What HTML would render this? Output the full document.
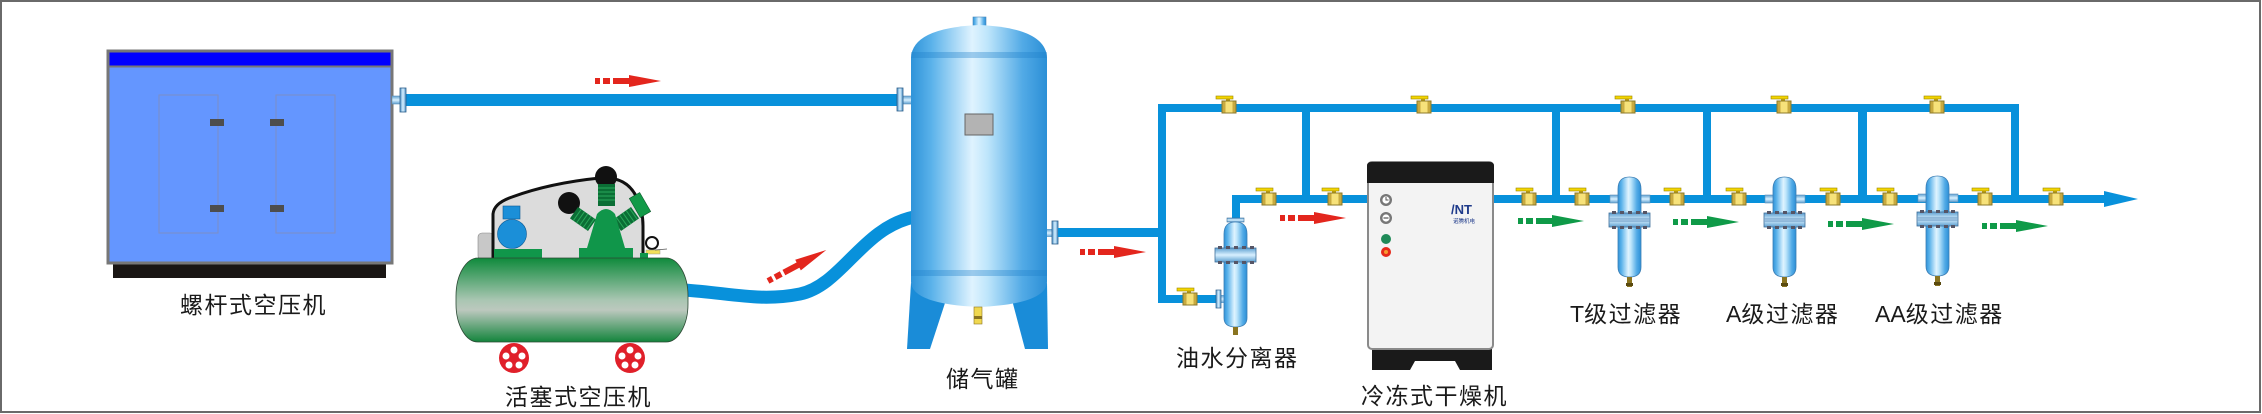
<!DOCTYPE html>
<html><head><meta charset="utf-8"><style>
html,body{margin:0;padding:0;background:#fff;}
svg{display:block;}
text{font-family:"Liberation Sans","Noto Sans CJK SC",sans-serif;fill:#1a1a1a;}
</style></head><body>
<svg width="2262" height="414" viewBox="0 0 2262 414" xmlns="http://www.w3.org/2000/svg">
<defs>
<linearGradient id="tg" x1="0" x2="1" y1="0" y2="0">
<stop offset="0" stop-color="#2f93d9"/><stop offset="0.15" stop-color="#5ab2ea"/><stop offset="0.45" stop-color="#dff3ff"/><stop offset="0.56" stop-color="#bfe6fb"/><stop offset="0.82" stop-color="#52aae6"/><stop offset="1" stop-color="#2b8fd6"/>
</linearGradient>
<linearGradient id="fl" x1="0" x2="1" y1="0" y2="0">
<stop offset="0" stop-color="#4f94c8"/><stop offset="0.5" stop-color="#d8f0ff"/><stop offset="1" stop-color="#4f94c8"/>
</linearGradient>
<linearGradient id="flv" x1="0" x2="0" y1="0" y2="1">
<stop offset="0" stop-color="#5d9fd0"/><stop offset="0.5" stop-color="#d8f0ff"/><stop offset="1" stop-color="#5d9fd0"/>
</linearGradient>
<linearGradient id="gt" x1="0" x2="0" y1="0" y2="1">
<stop offset="0" stop-color="#0f8a3c"/><stop offset="0.5" stop-color="#a9c6b2"/><stop offset="0.62" stop-color="#bcc8be"/><stop offset="1" stop-color="#13843c"/>
</linearGradient>
<g id="valve">
<rect x="-6" y="-5" width="17" height="3" fill="#f3d500" stroke="#9c8600" stroke-width="0.6"/>
<rect x="4" y="-2.5" width="4" height="3" fill="#b89a10"/>
<rect x="0" y="0" width="14" height="12" fill="#f7e27a" stroke="#8c7a2a" stroke-width="1"/>
<rect x="0.5" y="0.5" width="3" height="11" fill="#c8aa40"/>
<rect x="10.5" y="0.5" width="3" height="11" fill="#c8aa40"/>
</g>
<g id="arr">
<rect x="0" y="-3" width="5" height="6"/>
<rect x="8" y="-3" width="7" height="6"/>
<rect x="18" y="-3" width="18" height="6"/>
<polygon points="34,-6 66,0 34,6"/>
</g>
<g id="filter">
<rect x="-8" y="18" width="9" height="8" fill="url(#flv)" stroke="#5d8fb8" stroke-width="0.6"/>
<rect x="22" y="18" width="10" height="8" fill="url(#flv)" stroke="#5d8fb8" stroke-width="0.6"/>
<path d="M0 12 Q0 0 11.5 0 Q23 0 23 12 V90 Q23 100 11.5 100 Q0 100 0 90 Z" fill="url(#tg)" stroke="#3d7fb5" stroke-width="0.8"/>
<rect x="-9" y="36" width="41" height="14" fill="url(#flv)" stroke="#3f6f99" stroke-width="0.8"/>
<rect x="-9" y="41" width="41" height="4" fill="#6f9fc8" opacity="0.6"/>
<g fill="#556">
<rect x="-6" y="34" width="4" height="3"/><rect x="2" y="34" width="4" height="3"/><rect x="10" y="34" width="4" height="3"/><rect x="18" y="34" width="4" height="3"/><rect x="25" y="34" width="4" height="3"/>
<rect x="-6" y="49" width="4" height="3"/><rect x="2" y="49" width="4" height="3"/><rect x="10" y="49" width="4" height="3"/><rect x="18" y="49" width="4" height="3"/><rect x="25" y="49" width="4" height="3"/>
</g>
<rect x="9" y="100" width="5" height="10" fill="#8a7420"/>
<rect x="8" y="106" width="7" height="3" fill="#5a4a10"/>
</g>
</defs>

<rect x="1" y="1" width="2259" height="411" fill="#fff" stroke="#6a6a6a" stroke-width="2"/>

<!-- Screw compressor -->
<rect x="113" y="263" width="273" height="15" fill="#1a1614"/>
<rect x="108" y="51" width="284" height="212" fill="#6496ff" stroke="#777" stroke-width="3"/>
<rect x="109.5" y="52.5" width="281" height="13.5" fill="#0000ff"/>
<line x1="109" y1="66.5" x2="391" y2="66.5" stroke="#777" stroke-width="2"/>
<rect x="159" y="95" width="59" height="138" fill="none" stroke="#7d8fc4" stroke-width="1"/>
<rect x="276" y="95" width="59" height="138" fill="none" stroke="#7d8fc4" stroke-width="1"/>
<g fill="#4d4d4d"><rect x="210" y="119" width="14" height="7"/><rect x="210" y="205" width="14" height="7"/><rect x="270" y="119" width="14" height="7"/><rect x="270" y="205" width="14" height="7"/></g>
<text x="180" y="313" font-size="23" letter-spacing="1.5">螺杆式空压机</text>

<!-- Top main pipe -->
<rect x="404" y="94" width="495" height="12" fill="#0891db"/>
<rect x="392" y="96" width="10" height="8" fill="url(#flv)" stroke="#5d8fb8" stroke-width="0.6"/>
<rect x="400" y="88" width="6" height="24" fill="url(#fl)" stroke="#2c5d8a" stroke-width="0.8"/>
<rect x="903" y="96" width="9" height="8" fill="url(#flv)" stroke="#5d8fb8" stroke-width="0.6"/>
<rect x="897" y="88" width="6" height="23" fill="url(#fl)" stroke="#2c5d8a" stroke-width="0.8"/>
<use href="#arr" transform="translate(595,81)" fill="#e3261d"/>

<!-- Hose -->
<path d="M684 290 C730 293, 760 302, 800 294 C842 285, 862 228, 914 217" fill="none" stroke="#0891db" stroke-width="13"/>
<use href="#arr" transform="translate(768,281) rotate(-28)" fill="#e3261d"/>

<!-- Piston compressor -->
<rect x="478" y="233" width="16" height="27" rx="4" fill="#c8c8c8" stroke="#888" stroke-width="0.6"/>
<path d="M493 259 L493 214 Q494 203 512 197 Q550 183 600 178 Q626 176 636 196 Q643 210 643 226 L643 259" fill="#dcdcdc" stroke="#111" stroke-width="3"/>
<circle cx="569" cy="203" r="11" fill="#111"/>
<circle cx="606" cy="177" r="11" fill="#111"/>
<g transform="translate(583,219) rotate(35)"><rect x="-11" y="-7" width="22" height="14" fill="#0b6e35"/><g stroke="#2aa85a" stroke-width="1"><line x1="-7" y1="-7" x2="-7" y2="7"/><line x1="-3" y1="-7" x2="-3" y2="7"/><line x1="1" y1="-7" x2="1" y2="7"/><line x1="5" y1="-7" x2="5" y2="7"/><line x1="9" y1="-7" x2="9" y2="7"/></g></g>
<g transform="translate(626,219) rotate(-35)"><rect x="-11" y="-7" width="22" height="14" fill="#0b6e35"/><g stroke="#2aa85a" stroke-width="1"><line x1="-7" y1="-7" x2="-7" y2="7"/><line x1="-3" y1="-7" x2="-3" y2="7"/><line x1="1" y1="-7" x2="1" y2="7"/><line x1="5" y1="-7" x2="5" y2="7"/><line x1="9" y1="-7" x2="9" y2="7"/></g></g>
<rect x="598" y="184" width="17" height="22" fill="#0b6e35"/>
<g stroke="#2aa85a" stroke-width="1"><line x1="598" y1="188" x2="615" y2="188"/><line x1="598" y1="192" x2="615" y2="192"/><line x1="598" y1="196" x2="615" y2="196"/><line x1="598" y1="200" x2="615" y2="200"/></g>
<g transform="translate(640,205) rotate(-30)"><rect x="-6" y="-11" width="12" height="22" fill="#129a48" stroke="#0a5a2a" stroke-width="0.6"/></g>
<path d="M587 248 L597 214 Q606 204 615 214 L625 248 Z" fill="#10964a"/>
<rect x="503" y="206" width="17" height="13" fill="#1b8fd8" stroke="#0c5a95" stroke-width="0.6"/>
<circle cx="512" cy="234" r="14.5" fill="#1b8fd8" stroke="#0c5a95" stroke-width="0.6"/>
<rect x="494" y="249" width="48" height="10" fill="#10964a"/>
<rect x="579" y="248" width="54" height="11" fill="#10964a"/>
<circle cx="652" cy="243" r="6" fill="#fff" stroke="#111" stroke-width="2"/>
<rect x="646" y="250" width="14" height="4" fill="#f3e05a" stroke="#998" stroke-width="0.5"/>
<line x1="655" y1="250" x2="667" y2="249" stroke="#555" stroke-width="0.8"/>
<rect x="640" y="253" width="8" height="6" fill="#10964a"/>
<rect x="456" y="258" width="232" height="84" rx="22" ry="38" fill="url(#gt)" stroke="#2c4a35" stroke-width="0.8"/>
<g fill="#e0202a"><circle cx="514" cy="358" r="15"/><circle cx="630" cy="358" r="15"/></g>
<g fill="#fff">
<circle cx="514" cy="350" r="3.5"/><circle cx="506" cy="356" r="3.5"/><circle cx="522" cy="356" r="3.5"/><circle cx="509" cy="365" r="3.5"/><circle cx="519" cy="365" r="3.5"/>
<circle cx="630" cy="350" r="3.5"/><circle cx="622" cy="356" r="3.5"/><circle cx="638" cy="356" r="3.5"/><circle cx="625" cy="365" r="3.5"/><circle cx="635" cy="365" r="3.5"/>
</g>
<text x="505" y="405" font-size="23" letter-spacing="1.5">活塞式空压机</text>

<!-- Storage tank -->
<polygon points="911,283 946,300 930,349 907,349" fill="#1a8cd8"/>
<polygon points="1047,283 1012,300 1025,349 1048,349" fill="#1a8cd8"/>
<rect x="973" y="17" width="13" height="10" fill="url(#tg)" stroke="#4a88bb" stroke-width="0.6"/>
<path d="M911 58 Q912 28 979 25 Q1046 28 1047 58 L1047 282 Q1046 304 979 307 Q912 304 911 282 Z" fill="url(#tg)"/>
<rect x="911" y="52" width="136" height="6" fill="#1e7fc8" opacity="0.35"/>
<rect x="911" y="270" width="136" height="6" fill="#1e7fc8" opacity="0.35"/>
<rect x="965" y="114" width="28" height="21" fill="#b3b3b3" stroke="#666" stroke-width="1"/>
<rect x="974" y="307" width="8" height="17" fill="#f0d850" stroke="#8a7420" stroke-width="0.6"/>
<rect x="974" y="316" width="8" height="3" fill="#8a7420"/>
<text x="946" y="387" font-size="23" letter-spacing="1.5">储气罐</text>

<!-- Tank outlet & branch piping -->
<rect x="1047" y="229" width="6" height="8" fill="url(#flv)"/>
<rect x="1052" y="221" width="6" height="23" fill="url(#fl)" stroke="#2c5d8a" stroke-width="0.8"/>
<rect x="1058" y="228" width="104" height="9" fill="#0891db"/>
<use href="#arr" transform="translate(1080,252)" fill="#e3261d"/>
<rect x="1158" y="104" width="8" height="199" fill="#0891db"/>
<rect x="1158" y="104" width="861" height="8" fill="#0891db"/>
<rect x="1158" y="295" width="60" height="8" fill="#0891db"/>
<rect x="1302" y="104" width="8" height="95" fill="#0891db"/>
<rect x="1232" y="195" width="8" height="25" fill="#0891db"/>
<rect x="1232" y="195" width="136" height="8" fill="#0891db"/>
<rect x="1494" y="195" width="612" height="8" fill="#0891db"/>
<polygon points="2104,191 2138,199 2104,207" fill="#0891db"/>
<rect x="1552" y="104" width="8" height="96" fill="#0891db"/>
<rect x="1703" y="104" width="8" height="96" fill="#0891db"/>
<rect x="1858" y="104" width="9" height="96" fill="#0891db"/>
<rect x="2011" y="104" width="8" height="96" fill="#0891db"/>
<use href="#arr" transform="translate(1280,218)" fill="#e3261d"/>

<!-- Separator -->
<rect x="1221" y="295" width="4" height="8" fill="url(#flv)"/>
<rect x="1216" y="290" width="5" height="18" fill="url(#fl)" stroke="#2c5d8a" stroke-width="0.7"/>
<rect x="1227" y="218" width="17" height="4" fill="url(#flv)" stroke="#3f6f99" stroke-width="0.6"/>
<path d="M1224 234 Q1224 222 1235.5 222 Q1247 222 1247 234 V318 Q1247 327 1235.5 327 Q1224 327 1224 318 Z" fill="url(#tg)" stroke="#3d7fb5" stroke-width="0.8"/>
<rect x="1215" y="248" width="41" height="14" fill="url(#flv)" stroke="#3f6f99" stroke-width="0.8"/>
<g fill="#556"><rect x="1218" y="246" width="4" height="3"/><rect x="1226" y="246" width="4" height="3"/><rect x="1234" y="246" width="4" height="3"/><rect x="1242" y="246" width="4" height="3"/><rect x="1250" y="246" width="4" height="3"/><rect x="1218" y="261" width="4" height="3"/><rect x="1226" y="261" width="4" height="3"/><rect x="1234" y="261" width="4" height="3"/><rect x="1242" y="261" width="4" height="3"/><rect x="1250" y="261" width="4" height="3"/></g>
<rect x="1233" y="327" width="5" height="8" fill="#8a7420"/>
<text x="1176" y="366" font-size="23" letter-spacing="1.5">油水分离器</text>

<!-- Dryer -->
<path d="M1372 349 H1492 V370 H1460 L1455 361 H1415 L1410 370 H1372 Z" fill="#1a1a1a"/>
<rect x="1368" y="162" width="125" height="187" rx="4" fill="#f3f3f3" stroke="#8a8a8a" stroke-width="2"/>
<path d="M1367 183 V166 Q1367 162 1371 162 H1490 Q1494 162 1494 166 V183 Z" fill="#1a1a1a"/>
<circle cx="1386" cy="200" r="6" fill="#777"/><circle cx="1386" cy="200" r="3.6" fill="#fff"/><path d="M1386 197 V200 H1388.5" stroke="#555" stroke-width="1" fill="none"/>
<circle cx="1386" cy="218" r="6" fill="#777"/><circle cx="1386" cy="218" r="3.6" fill="#fff"/><path d="M1383.5 218 H1388.5" stroke="#555" stroke-width="1.2"/>
<circle cx="1386" cy="239" r="5" fill="#1f8a58"/>
<circle cx="1386" cy="252" r="5" fill="#e52a1a"/><circle cx="1386" cy="252" r="2" fill="#f79a30"/>
<text x="1451" y="214" font-size="13" font-weight="bold" style="fill:#1e3a8a">/NT</text>
<text x="1453" y="223" font-size="5.5" style="fill:#1e3a8a">诺腾机电</text>
<text x="1361" y="404" font-size="23" letter-spacing="1.5">冷冻式干燥机</text>

<!-- Filters -->
<use href="#filter" transform="translate(1618,177)"/>
<use href="#filter" transform="translate(1773,177)"/>
<use href="#filter" transform="translate(1926,176)"/>
<text x="1570" y="322" font-size="23"><tspan>T</tspan><tspan letter-spacing="1.5">级过滤器</tspan></text>
<text x="1726" y="322" font-size="23"><tspan>A</tspan><tspan letter-spacing="1.5">级过滤器</tspan></text>
<text x="1875" y="322" font-size="23"><tspan>AA</tspan><tspan letter-spacing="1.5">级过滤器</tspan></text>

<!-- Green arrows -->
<use href="#arr" transform="translate(1518,221)" fill="#0f9a48"/>
<use href="#arr" transform="translate(1673,222)" fill="#0f9a48"/>
<use href="#arr" transform="translate(1828,224)" fill="#0f9a48"/>
<use href="#arr" transform="translate(1982,226)" fill="#0f9a48"/>

<!-- Valves -->
<use href="#valve" transform="translate(1222,101)"/>
<use href="#valve" transform="translate(1417,101)"/>
<use href="#valve" transform="translate(1621,101)"/>
<use href="#valve" transform="translate(1777,101)"/>
<use href="#valve" transform="translate(1930,101)"/>
<use href="#valve" transform="translate(1183,293)"/>
<use href="#valve" transform="translate(1262,193)"/>
<use href="#valve" transform="translate(1328,193)"/>
<use href="#valve" transform="translate(1522,193)"/>
<use href="#valve" transform="translate(1575,193)"/>
<use href="#valve" transform="translate(1670,193)"/>
<use href="#valve" transform="translate(1732,193)"/>
<use href="#valve" transform="translate(1826,193)"/>
<use href="#valve" transform="translate(1883,193)"/>
<use href="#valve" transform="translate(1978,193)"/>
<use href="#valve" transform="translate(2049,193)"/>
</svg>
</body></html>
